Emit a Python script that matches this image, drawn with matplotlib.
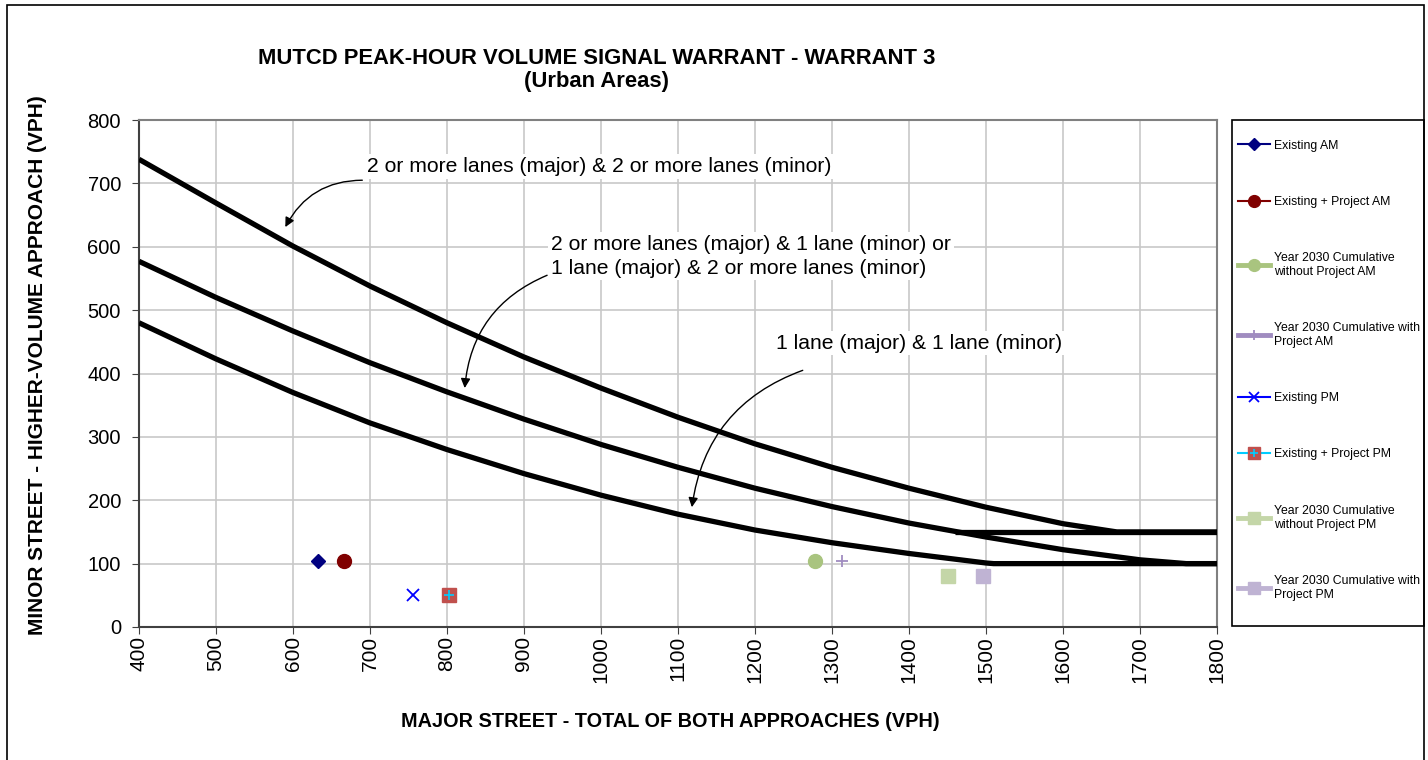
import matplotlib
matplotlib.use("Agg")
import matplotlib.pyplot as plt
from matplotlib.patches import Rectangle
from matplotlib.lines import Line2D
from matplotlib.legend_handler import HandlerTuple

plt.rcParams["font.family"] = ["Liberation Sans", "DejaVu Sans"]

# warrant curves (major street total vs minor street high approach)
major_2x2 = [400, 500, 600, 700, 800, 900, 1000, 1100, 1200, 1300, 1400, 1500, 1600, 1670, 1800]
minor_2x2 = [738, 669, 601, 538, 480, 426, 377, 331, 289, 252, 219, 189, 163, 150, 150]

major_2x1 = [400, 500, 600, 700, 800, 900, 1000, 1100, 1200, 1300, 1400, 1500, 1600, 1700, 1760, 1800]
minor_2x1 = [577, 520, 467, 417, 371, 328, 288, 252, 219, 190, 164, 142, 122, 106, 100, 100]

major_1x1 = [400, 500, 600, 700, 800, 900, 1000, 1100, 1200, 1300, 1400, 1500, 1510, 1800]
minor_1x1 = [480, 423, 370, 322, 280, 242, 208, 178, 153, 133, 116, 101, 100, 100]

# 150 vph floor for two-lane minor approach
floor_150_x = [1460, 1800]
floor_150_y = [150, 150]

# study intersection volumes
series_names = [
    "Existing AM",
    "Existing + Project AM",
    "Year 2030 Cumulative\nwithout Project AM",
    "Year 2030 Cumulative with\nProject AM",
    "Existing PM",
    "Existing + Project PM",
    "Year 2030 Cumulative\nwithout Project PM",
    "Year 2030 Cumulative with\nProject PM",
]
major_vol = [632, 666, 1278, 1313, 756, 803, 1450, 1496]
minor_vol = [104, 104, 104, 104, 50, 50, 80, 80]

fig = plt.figure(figsize=(14.28, 7.6), dpi=100)
ax = fig.add_axes([139 / 1428, 133 / 760, 1078 / 1428, 507 / 760])

for xs, ys in [(major_2x2, minor_2x2), (major_2x1, minor_2x1),
               (major_1x1, minor_1x1), (floor_150_x, floor_150_y)]:
    ax.plot(xs, ys, color="black", linewidth=3.8, solid_capstyle="butt", zorder=3)

styles = [
    dict(marker="D", ms=6.8, color="#000080", mfc="#000080", mec="#000080", lw=1.5),
    dict(marker="o", ms=10, color="#800000", mfc="#800000", mec="#800000", lw=1.5),
    dict(marker="o", ms=10, color="#A9C47F", mfc="#A9C47F", mec="#A9C47F", lw=3.5),
    dict(marker="+", ms=9, color="#A08CC0", mfc="#A08CC0", mec="#A08CC0", lw=3.5, mew=1.3),
    dict(marker="x", ms=9, color="#0000FF", mfc="#0000FF", mec="#0000FF", lw=1.5, mew=1.3),
    dict(marker="s", ms=9.5, color="#00CCFF", mfc="#C0504D", mec="#C0504D", lw=1.5),
    dict(marker="s", ms=10, color="#C4D6A8", mfc="#C4D6A8", mec="#C4D6A8", lw=3.5),
    dict(marker="s", ms=10, color="#BFB3D3", mfc="#BFB3D3", mec="#BFB3D3", lw=3.5),
]

handles = []
for name, mx, my, st in zip(series_names, major_vol, minor_vol, styles):
    lw = st.pop("lw")
    ax.plot([mx], [my], linestyle="none", zorder=4, **st)
    h = Line2D([], [], linewidth=lw, **st)
    if name == "Existing + Project PM":
        cross = dict(marker="+", ms=7, color="#00CCFF", mew=1.2)
        ax.plot([mx], [my], linestyle="none", zorder=5, **cross)
        h = (h, Line2D([], [], linestyle="none", **cross))
    handles.append(h)

ax.set_xlim(400, 1800)
ax.set_ylim(0, 800)
ax.set_xticks(range(400, 1801, 100))
ax.set_yticks(range(0, 801, 100))
ax.tick_params(axis="x", labelrotation=90, labelsize=15, length=5, pad=1.5, color="#404040")
ax.tick_params(axis="y", labelsize=14.5, length=5, pad=8, color="#404040")
ax.grid(True, color="#C8C8C8", linewidth=1.2, zorder=0)
ax.set_axisbelow(True)
for side in ["left", "bottom"]:
    ax.spines[side].set_color("#404040")
    ax.spines[side].set_linewidth(1.5)
for side in ["top", "right"]:
    ax.spines[side].set_color("#808080")
    ax.spines[side].set_linewidth(1.5)

ax.set_xlabel("MAJOR STREET - TOTAL OF BOTH APPROACHES (VPH)",
              fontsize=14.3, fontweight="bold")
ax.set_ylabel("MINOR STREET - HIGHER-VOLUME APPROACH (VPH)",
              fontsize=15, fontweight="bold")
ax.xaxis.set_label_coords(0.4926, -0.1677)
ax.yaxis.set_label_coords(-0.0855, 0.517)

fig.text(597 / 1428, 1 - 58.5 / 760, "MUTCD PEAK-HOUR VOLUME SIGNAL WARRANT - WARRANT 3",
         ha="center", va="center", fontsize=15.8, fontweight="bold")
fig.text(597 / 1428, 1 - 81.5 / 760, "(Urban Areas)",
         ha="center", va="center", fontsize=15.8, fontweight="bold")

# curve labels with curved leader arrows
box = dict(facecolor="white", edgecolor="none", pad=2)
ax.text(696, 727, "2 or more lanes (major) & 2 or more lanes (minor)",
        fontsize=15.2, va="center", ha="left", bbox=box, zorder=6)
ax.text(935, 585, "2 or more lanes (major) & 1 lane (minor) or\n1 lane (major) & 2 or more lanes (minor)",
        fontsize=15.2, va="center", ha="left", bbox=box, linespacing=1.3, zorder=6)
ax.text(1227, 448, "1 lane (major) & 1 lane (minor)",
        fontsize=15.2, va="center", ha="left", bbox=box, zorder=6)

arrow = dict(arrowstyle="-|>", color="black", lw=1.0, mutation_scale=14,
             shrinkA=0, shrinkB=0, connectionstyle="arc3,rad=0.3")
ax.annotate("", xy=(590, 631), xytext=(690, 705), arrowprops=arrow, zorder=6)
ax.annotate("", xy=(823, 377), xytext=(930, 555), arrowprops=arrow, zorder=6)
ax.annotate("", xy=(1118, 189), xytext=(1262, 405), arrowprops=arrow, zorder=6)

# legend panel on the right
fig.add_artist(Rectangle((1232 / 1428, 1 - 626 / 760), 192 / 1428, 506 / 760,
                         transform=fig.transFigure, facecolor="white",
                         edgecolor="black", linewidth=1.2))
leg = fig.legend(handles, series_names, loc="upper left",
                 bbox_to_anchor=(1223 / 1428, 1 - 125 / 760),
                 frameon=False, fontsize=8.8, handlelength=2.65, handletextpad=0.35,
                 labelspacing=3.62, borderpad=1.2, borderaxespad=0, markerscale=0.85,
                 numpoints=1, handler_map={tuple: HandlerTuple(ndivide=1)})

# outer chart border
fig.add_artist(Rectangle((7 / 1428, -0.02), 1417 / 1428, 1 - 5 / 760 + 0.02,
                         transform=fig.transFigure, facecolor="none",
                         edgecolor="black", linewidth=1.2))

fig.savefig("out.png", dpi=100, facecolor="white")
